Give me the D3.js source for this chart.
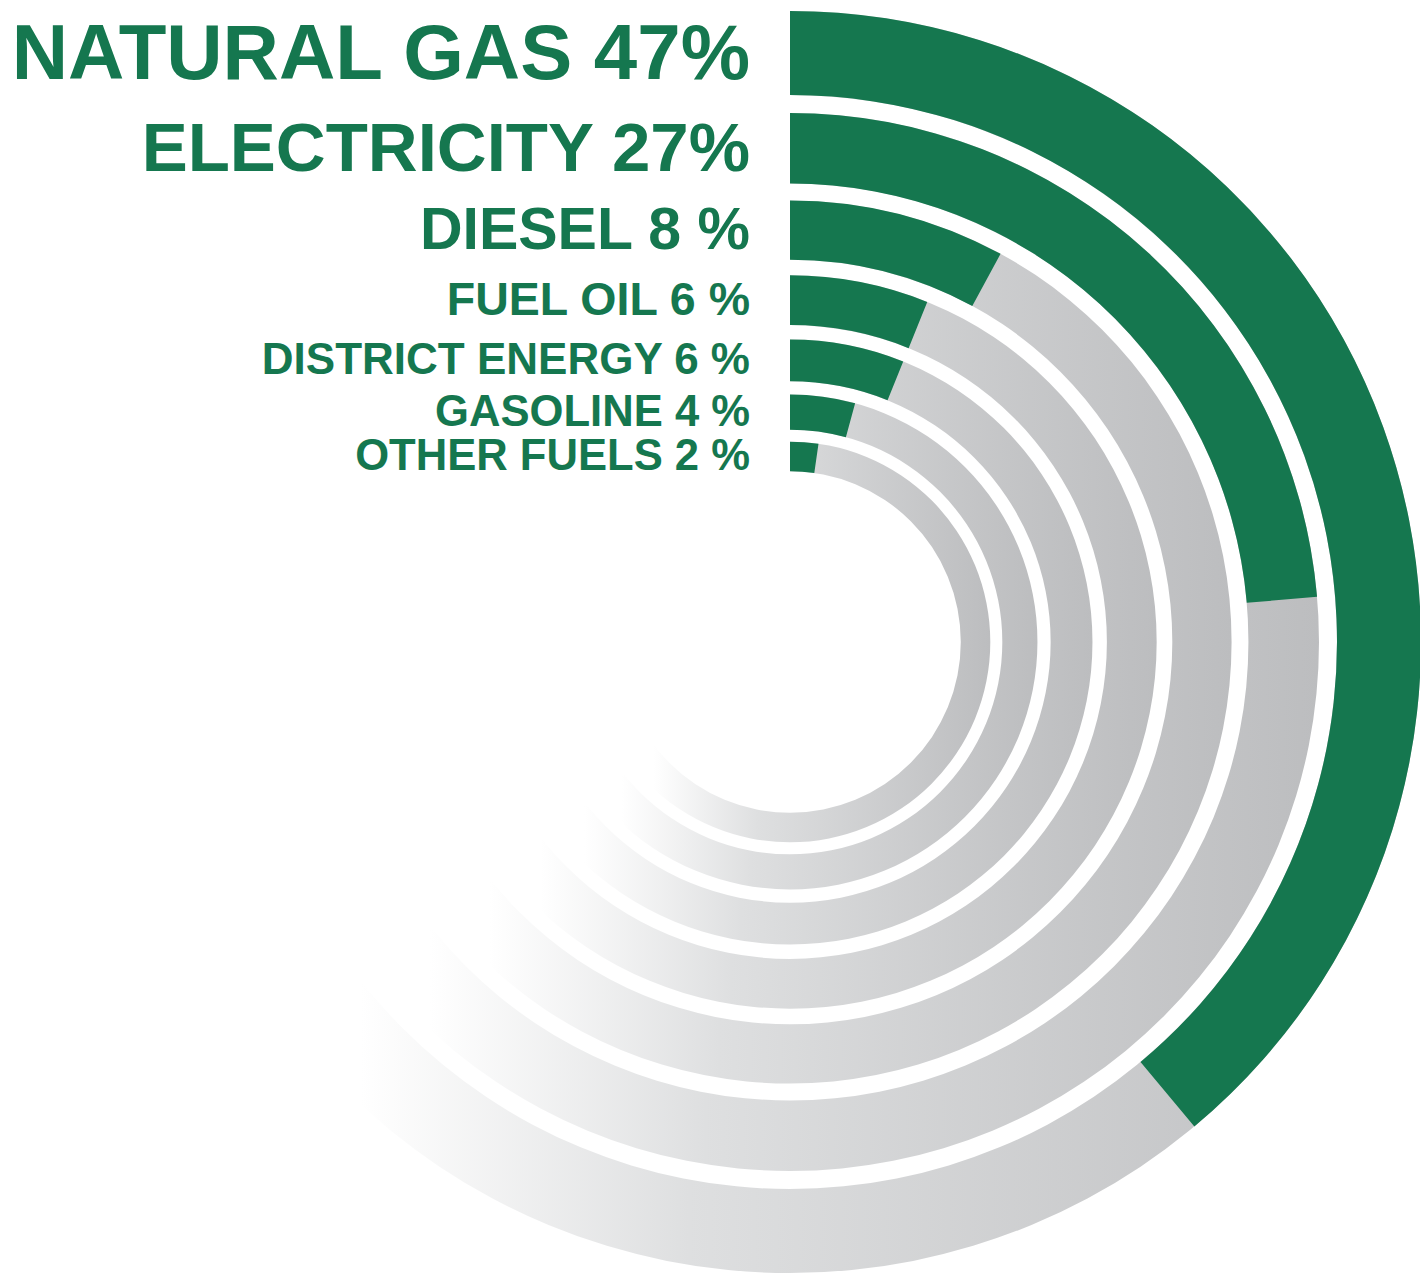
<!DOCTYPE html>
<html>
<head>
<meta charset="utf-8">
<script src="https://cdn.jsdelivr.net/npm/d3@7"></script>
<style>
  body { margin: 0; background: #fff; }
  svg { display: block; }
</style>
</head>
<body>
<div class="canvas"></div>
<script>
// data
const fuels = ['NATURAL GAS', 'ELECTRICITY', 'DIESEL', 'FUEL OIL', 'DISTRICT ENERGY', 'GASOLINE', 'OTHER FUELS']
const shares = [47, 27, 8, 6, 6, 4, 2]
const shareLabels = ['47%', '27%', '8 %', '6 %', '6 %', '4 %', '2 %']

// dimension
const dims = { width: 1420, height: 1277, outer: 631 }
const center = { x: 790, y: 642 }
const green = '#15774f'
const labelSize = [78, 69, 59, 46.5, 44, 43.6, 43.6] // px, per ring

// rings get thinner (and closer together) going in
const rings = []
let r = dims.outer
let pitch = 102
fuels.forEach((f, i) => {
  const w = 84 * Math.pow(0.84, i)
  rings.push({ outer: r, inner: r - w })
  r -= pitch
  pitch *= 0.857
})

// slightly compressed so the small shares stay visible
const angle = d3.scalePow()
  .exponent(0.9)
  .domain([0, 100])
  .range([0, 276.5 * Math.PI / 180])

const svg = d3.select('.canvas')
  .append('svg')
  .attr('width', dims.width)
  .attr('height', dims.height)

// gray track fades out to the left (per ring bounding box)
const grad = svg.append('defs')
  .append('linearGradient')
    .attr('id', 'track')
    .attr('x1', 0).attr('x2', 1).attr('y1', 0).attr('y2', 0)
grad.selectAll('stop')
  .data([[0, '#ffffff'], [0.16, '#ffffff'], [0.42, '#dedfe0'], [1, '#bcbdbf']])
  .enter().append('stop')
    .attr('offset', d => d[0])
    .attr('stop-color', d => d[1])

const graph = svg.append('g')
  .attr('transform', `translate(${center.x}, ${center.y})`)

const arcPath = d3.arc()
  .innerRadius((d, i) => rings[i].inner)
  .outerRadius((d, i) => rings[i].outer)

graph.selectAll('path.track')
  .data(shares)
  .enter().append('path')
    .attr('class', 'track')
    .attr('fill', 'url(#track)')
    .attr('d', (d, i) => arcPath({ startAngle: 0, endAngle: Math.PI * 1.5 }, i))

graph.selectAll('path.share')
  .data(shares)
  .enter().append('path')
    .attr('class', 'share')
    .attr('fill', green)
    .attr('d', (d, i) => arcPath({ startAngle: 0, endAngle: angle(d) }, i))

// labels sit left of the 12 o'clock edge, centred on their ring
svg.append('g')
  .selectAll('text')
  .data(fuels)
  .enter().append('text')
    .attr('x', center.x - 40)
    .attr('y', (d, i) => center.y - (rings[i].outer + rings[i].inner) / 2)
    .attr('dy', (d, i) => labelSize[i] * 0.358 - 2)
    .attr('text-anchor', 'end')
    .attr('fill', green)
    .attr('font-family', '"Liberation Sans", Arial, Helvetica, sans-serif')
    .attr('font-weight', 'bold')
    .attr('font-size', (d, i) => labelSize[i])
    .text((d, i) => `${d} ${shareLabels[i]}`)
</script>
</body>
</html>
